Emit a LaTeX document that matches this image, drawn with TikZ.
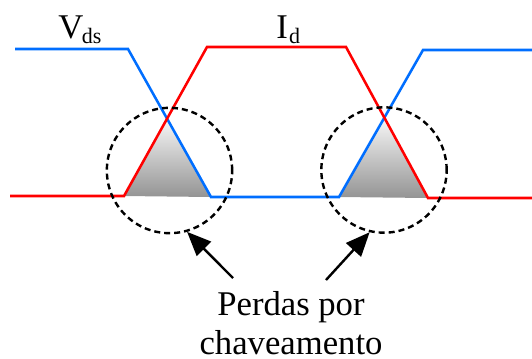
\documentclass[tikz,border=0pt]{standalone}
\usepackage{fontspec}
\setmainfont{Liberation Serif}
\usetikzlibrary{arrows.meta}
\definecolor{vdsblue}{RGB}{0,110,255}
\definecolor{idred}{RGB}{255,0,0}
\tikzset{
  wave/.style={line width=1.9pt},
  lossarea/.style={top color=black!3, bottom color=black!42},
  zone/.style={circle,draw,line width=1.8pt,dash pattern=on 4.5pt off 3pt,minimum size=94pt,inner sep=0},
  pointer/.style={line width=1.8pt,-{Triangle[length=18pt,width=15pt]}},
  lbl/.style={font=\rmfamily\fontsize{26}{29}\selectfont,inner sep=0}
}
\begin{document}
\begin{tikzpicture}[x=0.75pt,y=-0.75pt]
  \useasboundingbox (0,0) rectangle (532,358);
  % corners of the two waveforms
  \coordinate (v1) at (128,49);  \coordinate (v2) at (211,197);
  \coordinate (v3) at (339,197); \coordinate (v4) at (423,50);
  \coordinate (i1) at (124,196); \coordinate (i2) at (207,47);
  \coordinate (i3) at (346,47);  \coordinate (i4) at (428,198);
  \coordinate (on) at (intersection of v1--v2 and i1--i2);
  \coordinate (off) at (intersection of v3--v4 and i3--i4);
  % switching loss areas
  \shade[lossarea] (i1) -- (on) -- (v2) -- cycle;
  \shade[lossarea] (v3) -- (off) -- (i4) -- cycle;
  % waveforms
  \draw[wave,vdsblue] (15,49) -- (v1) -- (v2) -- (v3) -- (v4) -- (532,50);
  \draw[wave,idred] (10,196) -- (i1) -- (i2) -- (i3) -- (i4) -- (532,198);
  \node[lbl,anchor=base west] (vds) at (58,38) {V\kern-1pt\raisebox{-3.75pt}{\fontsize{16.5}{18}\selectfont ds}};
  \node[lbl,anchor=base west] (id) at (276,38) {I\kern1pt\raisebox{-3.75pt}{\fontsize{16.5}{18}\selectfont d}};
  % marked regions
  \node[zone] (sw1) at (169.5,170.5) {};
  \node[zone] (sw2) at (384,170) {};
  \node[lbl,align=center,anchor=base] (loss) at (291,354) {Perdas por\\chaveamento};
  \coordinate (t1) at (233,278);
  \coordinate (t2) at (326,280);
  \draw[pointer] (t1) -- (sw1.-74);
  \draw[pointer] (t2) -- (sw2.-103);
\end{tikzpicture}
\end{document}
